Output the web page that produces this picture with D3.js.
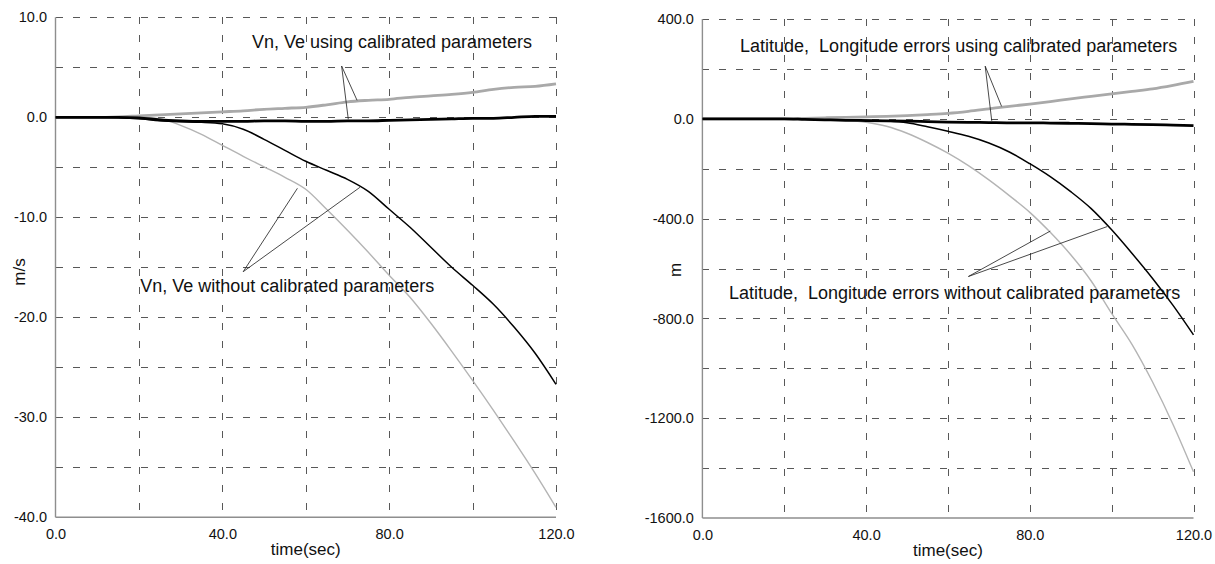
<!DOCTYPE html>
<html>
<head>
<meta charset="utf-8">
<script src="https://cdn.jsdelivr.net/npm/d3@7"></script>
<style>
  html, body { margin: 0; padding: 0; background: #ffffff; }
  svg { display: block; font-family: "Liberation Sans", Arial, sans-serif; }
</style>
</head>
<body>
<svg id="chart" width="1215" height="564"></svg>
<script>
// ---- data -------------------------------------------------------------
// sample times (s)
const timeSec = [0, 5, 10, 15, 20, 25, 30, 35, 40, 45, 50, 55, 60,
                 65, 70, 75, 80, 85, 90, 95, 100, 105, 110, 115, 120];

// velocity errors (m/s)
const velCalGray   = [0, 0, 0, 0.05, 0.15, 0.25, 0.35, 0.45, 0.55, 0.65, 0.8, 0.9, 1.0,
                      1.25, 1.55, 1.7, 1.8, 2.0, 2.15, 2.3, 2.5, 2.8, 3.0, 3.1, 3.35];
const velCalBlack  = [0, 0, 0, 0, -0.05, -0.25, -0.35, -0.4, -0.4, -0.4, -0.35, -0.35, -0.4,
                      -0.4, -0.35, -0.35, -0.3, -0.25, -0.2, -0.15, -0.1, -0.1, 0, 0.1, 0.1];
const velNoCalBlack = [0, 0, 0, -0.05, -0.15, -0.35, -0.45, -0.5, -0.65, -1.2, -2.2, -3.3, -4.4,
                       -5.3, -6.2, -7.4, -9.2, -11.0, -13.0, -15.0, -16.8, -18.7, -21.0, -23.6, -26.7];
const velNoCalGray  = [0, 0, 0, 0, 0, -0.15, -0.8, -1.7, -2.8, -3.9, -4.95, -6.0, -7.2,
                       -9.2, -11.3, -13.5, -15.8, -18.0, -20.6, -23.4, -26.3, -29.3, -32.4, -35.6, -39.0];

// position errors (m)
const posCalGray   = [0, 0, 0, 0, 0, 2, 4, 6, 8, 10, 13, 17, 22,
                      30, 40, 50, 59, 69, 80, 90, 100, 110, 120, 134, 150];
const posCalBlack  = [0, 0, 0, 0, 0, -2, -4, -6, -7, -8, -9, -11, -13,
                      -14, -15, -16, -16, -17, -18, -19, -21, -22, -23, -25, -27];
const posNoCalBlack = [0, 0, 0, 0, 0, -2, -4, -5, -6, -9, -16, -32, -50,
                       -70, -97, -133, -180, -232, -292, -360, -445, -540, -640, -748, -866];
const posNoCalGray  = [0, 0, 0, 0, 0, 0, -2, -6, -14, -30, -58, -95, -138,
                       -188, -245, -308, -375, -455, -545, -650, -780, -905, -1055, -1225, -1415];

// axes: ticks, labels and grid positions
const timeTickValues = [0, 40, 80, 120];
const timeTickLabels = ["0.0", "40.0", "80.0", "120.0"];
const timeGridValues = [20, 40, 60, 80, 100, 120];

const velTickValues = [10, 0, -10, -20, -30, -40];
const velTickLabels = ["10.0", "0.0", "-10.0", "-20.0", "-30.0", "-40.0"];
const velGridValues = [10, 5, 0, -5, -10, -15, -20, -25, -30, -35];

const posTickValues = [400, 0, -400, -800, -1200, -1600];
const posTickLabels = ["400.0", "0.0", "-400.0", "-800.0", "-1200.0", "-1600.0"];
const posGridValues = [400, 200, 0, -200, -400, -600, -800, -1000, -1200, -1400];

// annotation texts, anchored in data units [t, value]
const velNotes = [
  { text: "Vn, Ve using calibrated parameters",   at: [47.1, 6.9] },
  { text: "Vn, Ve without calibrated parameters", at: [20.3, -17.45] }
];
const velLeaders = [
  { from: [68.6, 5.13],  to: [72.3, 1.7] },
  { from: [68.6, 5.13],  to: [70.2, -0.2] },
  { from: [45.0, -15.44], to: [58.0, -7.1] },
  { from: [45.0, -15.44], to: [73.0, -7.0] }
];
const posNotes = [
  { text: "Latitude,  Longitude errors using calibrated parameters",   at: [9.2, 267] },
  { text: "Latitude,  Longitude errors without calibrated parameters", at: [6.5, -721] }
];
const posLeaders = [
  { from: [69.1, 211], to: [73.1, 50] },
  { from: [69.1, 211], to: [70.7, -8] },
  { from: [65.0, -632], to: [85.0, -450] },
  { from: [65.0, -632], to: [98.9, -432] }
];

// ---- drawing ------------------------------------------------------------
const svg = d3.select("#chart");

const styles = {
  calGray:    { stroke: "#a9a9a9", width: 2.8 },
  calBlack:   { stroke: "#000000", width: 2.8 },
  noCalBlack: { stroke: "#000000", width: 1.5 },
  noCalGray:  { stroke: "#b4b4b4", width: 1.4 }
};

function drawPanel(cfg) {
  const x = d3.scaleLinear().domain([0, 120]).range([cfg.left, cfg.right]);
  const y = d3.scaleLinear().domain(cfg.yDomain).range([cfg.bottom, cfg.top]);
  const g = svg.append("g");

  // dashed grid
  g.append("g").selectAll("line").data(cfg.yGrid).join("line")
    .attr("x1", x(0)).attr("x2", x(120))
    .attr("y1", d => Math.round(y(d)) + 0.5).attr("y2", d => Math.round(y(d)) + 0.5)
    .attr("stroke", "#585858").attr("stroke-width", 1)
    .attr("stroke-dasharray", "7,10").attr("shape-rendering", "crispEdges");
  g.append("g").selectAll("line").data(timeGridValues).join("line")
    .attr("x1", d => Math.round(x(d)) + 0.5).attr("x2", d => Math.round(x(d)) + 0.5)
    .attr("y1", y(cfg.yDomain[1])).attr("y2", y(cfg.yDomain[0]))
    .attr("stroke", "#585858").attr("stroke-width", 1)
    .attr("stroke-dasharray", "7,11").attr("shape-rendering", "crispEdges");

  // solid left and bottom axis lines
  g.append("line")
    .attr("x1", x(0)).attr("x2", x(0))
    .attr("y1", y(cfg.yDomain[1])).attr("y2", y(cfg.yDomain[0]))
    .attr("stroke", "#8e8e8e").attr("stroke-width", 1.4);
  g.append("line")
    .attr("x1", x(0)).attr("x2", x(120))
    .attr("y1", y(cfg.yDomain[0])).attr("y2", y(cfg.yDomain[0]))
    .attr("stroke", "#8e8e8e").attr("stroke-width", 1.4);

  // axis labels through d3 axes
  const yAxis = d3.axisLeft(y).tickValues(cfg.yTicks)
    .tickFormat((d, i) => cfg.yLabels[i]).tickSize(0).tickPadding(8.5);
  const yg = g.append("g").attr("transform", `translate(${x(0)},0)`).call(yAxis);
  yg.select(".domain").remove();
  yg.selectAll("text").attr("font-size", 14.5).attr("font-family", "Liberation Sans, Arial, sans-serif")
    .attr("fill", "#111");

  const xAxis = d3.axisBottom(x).tickValues(timeTickValues)
    .tickFormat((d, i) => timeTickLabels[i]).tickSize(0).tickPadding(11.5);
  const xg = g.append("g").attr("transform", `translate(0,${y(cfg.yDomain[0])})`).call(xAxis);
  xg.select(".domain").remove();
  xg.selectAll("text").attr("font-size", 14.5).attr("font-family", "Liberation Sans, Arial, sans-serif")
    .attr("fill", "#111");

  // axis titles
  g.append("text")
    .attr("x", (x(0) + x(120)) / 2).attr("y", y(cfg.yDomain[0]) + 38)
    .attr("text-anchor", "middle").attr("font-size", 17).attr("fill", "#111")
    .text("time(sec)");
  g.append("text")
    .attr("transform", `translate(${cfg.yTitleX},${cfg.yTitleY}) rotate(-90)`)
    .attr("text-anchor", "middle").attr("dy", "0.35em")
    .attr("font-size", 17).attr("fill", "#111")
    .text(cfg.yTitle);

  // curves
  const line = d3.line().x((d, i) => x(timeSec[i])).y(d => y(d)).curve(d3.curveMonotoneX);
  cfg.series.forEach(s => {
    g.append("path").datum(s.values)
      .attr("d", line)
      .attr("fill", "none")
      .attr("stroke", s.style.stroke)
      .attr("stroke-width", s.style.width)
      .attr("stroke-linejoin", "round");
  });

  // leader lines and notes
  g.append("g").selectAll("line").data(cfg.leaders).join("line")
    .attr("x1", d => x(d.from[0])).attr("y1", d => y(d.from[1]))
    .attr("x2", d => x(d.to[0])).attr("y2", d => y(d.to[1]))
    .attr("stroke", "#1a1a1a").attr("stroke-width", 0.8);
  g.append("g").selectAll("text").data(cfg.notes).join("text")
    .attr("x", d => x(d.at[0])).attr("y", d => y(d.at[1]))
    .attr("font-size", 18).attr("fill", "#111")
    .style("white-space", "pre")
    .text(d => d.text);
}

drawPanel({
  left: 55.5, right: 556, top: 17.3, bottom: 517.3,
  yDomain: [-40, 10],
  yGrid: velGridValues, yTicks: velTickValues, yLabels: velTickLabels,
  yTitle: "m/s", yTitleX: 19, yTitleY: 272,
  series: [
    { values: velNoCalGray,  style: styles.noCalGray },
    { values: velNoCalBlack, style: styles.noCalBlack },
    { values: velCalGray,    style: styles.calGray },
    { values: velCalBlack,   style: styles.calBlack }
  ],
  notes: velNotes, leaders: velLeaders
});

drawPanel({
  left: 702.4, right: 1193.5, top: 19, bottom: 518,
  yDomain: [-1600, 400],
  yGrid: posGridValues, yTicks: posTickValues, yLabels: posTickLabels,
  yTitle: "m", yTitleX: 675, yTitleY: 270,
  series: [
    { values: posNoCalGray,  style: styles.noCalGray },
    { values: posNoCalBlack, style: styles.noCalBlack },
    { values: posCalGray,    style: styles.calGray },
    { values: posCalBlack,   style: styles.calBlack }
  ],
  notes: posNotes, leaders: posLeaders
});
</script>
</body>
</html>
